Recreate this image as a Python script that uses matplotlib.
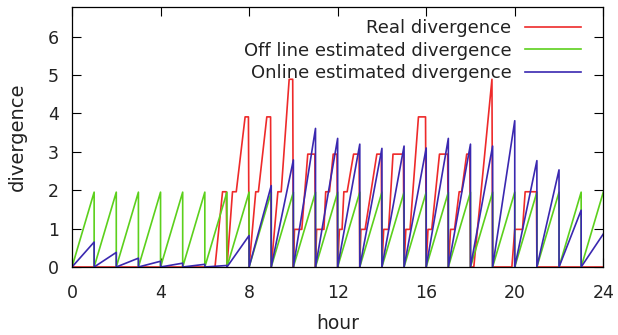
import matplotlib
matplotlib.use("Agg")
import matplotlib.pyplot as plt

# ---------------- data ----------------
hours = list(range(0, 25))

# Real divergence: breakpoints (hour, value)
real_x = [0, 6.46, 6.8, 6.97, 7.0, 7.25, 7.42, 7.82, 7.97, 8.0,
          8.3, 8.42, 8.8, 8.97, 9.0, 9.3, 9.45, 9.81, 9.97, 10.0,
          10.05, 10.38, 10.65, 10.97, 11.0, 11.05, 11.38, 11.46, 11.63, 11.8, 11.97, 12.0,
          12.08, 12.2, 12.28, 12.43, 12.72, 12.97, 13.0,
          13.05, 13.24, 13.77, 13.97, 14.0,
          14.08, 14.3, 14.5, 14.97, 15.0,
          15.08, 15.27, 15.65, 15.97, 16.0,
          16.08, 16.25, 16.6, 16.97, 17.0,
          17.1, 17.28, 17.49, 17.6, 17.83, 17.97, 18.0,
          18.15, 18.97, 19.0, 19.87, 20.0, 20.35, 20.47, 20.98, 21.0, 24.0]
real_y = [0, 0, 1.96, 1.96, 0, 1.96, 1.96, 3.91, 3.91, 0,
          1.96, 1.96, 3.91, 3.91, 0, 1.96, 1.96, 4.89, 4.89, 0,
          0.98, 0.98, 2.94, 2.94, 0, 0.98, 0.98, 1.96, 1.96, 2.94, 2.94, 0,
          0.98, 0.98, 1.96, 1.96, 2.94, 2.94, 0,
          0.98, 0.98, 2.94, 2.94, 0,
          0.98, 0.98, 2.94, 2.94, 0,
          0.98, 0.98, 3.91, 3.91, 0,
          0.98, 0.98, 2.94, 2.94, 0,
          0.98, 0.98, 1.96, 1.96, 2.94, 2.94, 0,
          0, 4.89, 0, 0, 0.98, 0.98, 1.96, 1.96, 0, 0]

# Off line estimated divergence: value reached at the end of each hour
offline_peaks = [1.95, 1.95, 1.95, 1.95, 1.95, 1.95, 1.95, 1.95,
                 1.95, 1.95, 1.95, 1.95, 1.95, 1.95, 1.95, 1.95,
                 1.95, 1.95, 1.95, 1.95, 1.95, 1.95, 1.95, 1.95]

# Online estimated divergence: value at hour 0, then value reached at end of each hour
online_start = 1.02
online_peaks = [0.65, 0.38, 0.23, 0.15, 0.10, 0.07, 0.04, 0.82,
                2.12, 2.79, 3.61, 3.35, 3.20, 3.09, 3.15, 3.10,
                3.35, 3.20, 3.15, 3.81, 2.77, 2.53, 1.48, 0.86]

# ---------------- build sawtooth paths from the read values ----------------
def sawtooth(peaks, start=None):
    xs, ys = [], []
    if start is not None:
        xs += [hours[0]]
        ys += [start]
    for i, p in enumerate(peaks):
        xs += [hours[i], hours[i + 1]]
        ys += [0, p]
    return xs, ys

off_x, off_y = sawtooth(offline_peaks)
on_x, on_y = sawtooth(online_peaks, online_start)

# ---------------- figure ----------------
plt.rcParams['font.family'] = ['DejaVu Sans']
fig = plt.figure(figsize=(6.18, 3.35), dpi=100)
ax = fig.add_axes([72 / 618, (335 - 267) / 335, (603.3 - 72) / 618, (267 - 6.7) / 335])

red = '#ee2a2a'
green = '#5cd01c'
blue = '#3a28b0'

ax.plot(real_x, real_y, color=red, lw=1.2, label='Real divergence')
ax.plot(off_x, off_y, color=green, lw=1.2, label='Off line estimated divergence')
ax.plot(on_x, on_y, color=blue, lw=1.2, label='Online estimated divergence')

ax.set_xlim(0, 24)
ax.set_ylim(0, 6.78)
ax.set_xticks([0, 4, 8, 12, 16, 20, 24])
ax.set_yticks([0, 1, 2, 3, 4, 5, 6])
ax.tick_params(axis='both', direction='in', length=6.5, width=0.8,
               top=True, right=True, labelsize=12.5, labelcolor='#222222')
ax.tick_params(axis='x', pad=12)
ax.tick_params(axis='y', pad=9.5)
for s in ax.spines.values():
    s.set_linewidth(0.9)

ax.set_xlabel('hour', fontsize=13.5, labelpad=9, color='#222222')
ax.set_ylabel('divergence', fontsize=14, labelpad=15, color='#222222')

leg = ax.legend(loc='upper right', bbox_to_anchor=(0.958, 0.952), frameon=False,
                markerfirst=False, fontsize=13, handlelength=3.1, handletextpad=0.75,
                labelspacing=0.25, borderpad=0, borderaxespad=0)
for t in leg.get_texts():
    t.set_color('#222222')

fig.savefig('out.png', dpi=100)
